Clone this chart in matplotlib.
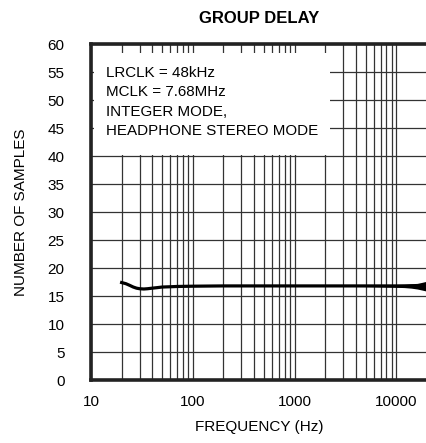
import matplotlib
matplotlib.use("Agg")
from matplotlib import pyplot as plt
from matplotlib.ticker import FixedLocator, NullFormatter

plt.rcParams['font.family'] = ['Liberation Sans', 'DejaVu Sans']

# group delay curve
freq = [20, 22, 24, 26, 28, 30, 33, 36, 40, 45, 50, 60, 70, 80, 100, 150, 200,
        300, 500, 700, 1000, 2000, 3000, 5000, 7000, 10000, 12000, 14000,
        16000, 18000, 20000]
samples = [17.4, 17.2, 16.9, 16.6, 16.4, 16.3, 16.25, 16.3, 16.4, 16.5, 16.6,
           16.65, 16.7, 16.72, 16.75, 16.78, 16.8, 16.8, 16.8, 16.8, 16.8,
           16.8, 16.8, 16.8, 16.8, 16.8, 16.8, 16.8, 16.75, 16.75, 16.75]
# half width of the noisy band at the high end
noise = [0, 0, 0, 0, 0, 0, 0, 0, 0, 0, 0, 0, 0, 0, 0, 0, 0,
         0, 0, 0, 0.02, 0.05, 0.08, 0.12, 0.18, 0.25, 0.3, 0.4, 0.5, 0.7, 0.9]

y_ticks = [0, 5, 10, 15, 20, 25, 30, 35, 40, 45, 50, 55, 60]
x_ticks = [10, 100, 1000, 10000]
x_labels = ["10", "100", "1000", "10000"]

fig = plt.figure(figsize=(4.27, 4.43), dpi=100)
ax = fig.add_axes([91/427, 63/443, 336/427, 336/443])

ax.set_xscale("log")
ax.set_xlim(10, 20000)
ax.set_ylim(0, 60)

minor = [m * d for d in [10, 100, 1000, 10000] for m in range(2, 10) if m * d < 20000]
ax.xaxis.set_major_locator(FixedLocator(x_ticks))
ax.xaxis.set_minor_locator(FixedLocator(minor))
ax.xaxis.set_minor_formatter(NullFormatter())
ax.set_xticks(x_ticks)
ax.set_xticklabels(x_labels)
ax.set_yticks(y_ticks)

ax.grid(True, which="both", color="#333333", linewidth=0.9)
ax.set_axisbelow(True)
ax.tick_params(which="both", length=0, labelsize=11, pad=11)
ax.tick_params(axis="y", pad=19)

for s in ax.spines.values():
    s.set_linewidth(2.6)
    s.set_color("#222222")
ax.spines["right"].set_visible(False)

lo = [v - n for v, n in zip(samples, noise)]
hi = [v + n for v, n in zip(samples, noise)]
ax.fill_between(freq, lo, hi, color="black", linewidth=0, zorder=3)
ax.plot(freq, samples, color="black", linewidth=2.3, zorder=3)

# white legend box covering the grid
box = plt.Rectangle((0.009, 0.670), 0.702, 0.303, transform=ax.transAxes,
                    facecolor="white", edgecolor="none", zorder=2)
ax.add_patch(box)
note = "LRCLK = 48kHz\nMCLK = 7.68MHz\nINTEGER MODE,\nHEADPHONE STEREO MODE"
ax.text(0.046, 0.935, note, transform=ax.transAxes, fontsize=10.9,
        va="top", ha="left", linespacing=1.5, zorder=4)

ax.set_title("GROUP DELAY", fontsize=12, fontweight="bold", pad=15)
ax.set_xlabel("FREQUENCY (Hz)", fontsize=11, labelpad=8)
ax.set_ylabel("NUMBER OF SAMPLES", fontsize=11, labelpad=14)

fig.savefig("out.png", dpi=100)
